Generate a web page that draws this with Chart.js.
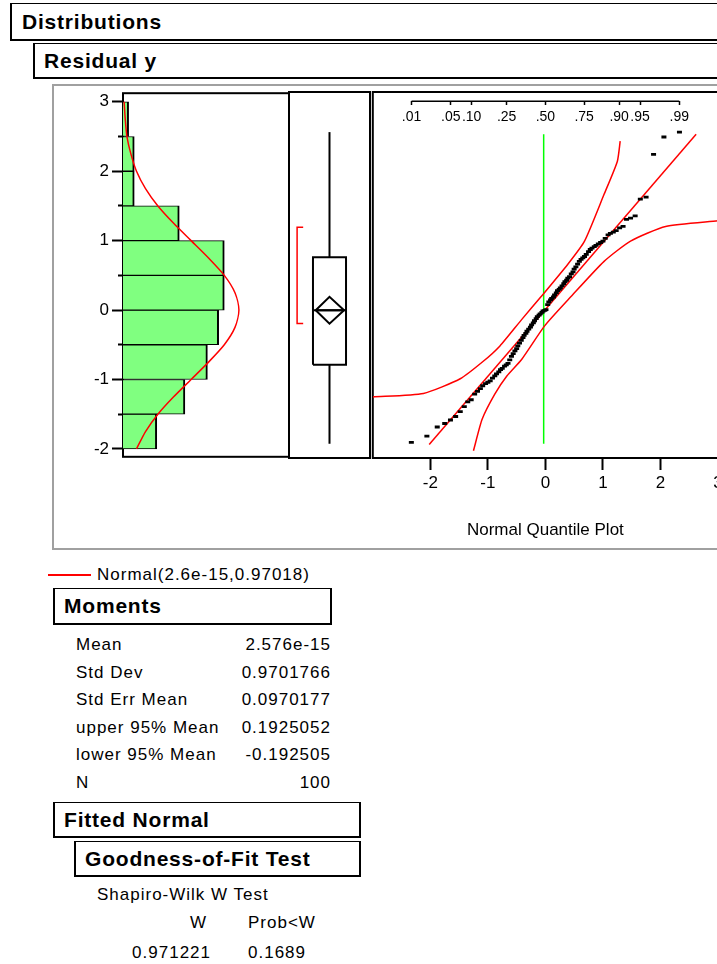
<!DOCTYPE html>
<html>
<head>
<meta charset="utf-8">
<title>Distributions</title>
<script src="https://cdn.jsdelivr.net/npm/chart.js@4.4.1/dist/chart.umd.min.js"></script>
<style>
html,body{margin:0;padding:0;background:#fff;}
body{position:relative;width:717px;height:964px;overflow:hidden;font-family:"Liberation Sans",Arial,Helvetica,sans-serif;color:#000;}
.box{position:absolute;box-sizing:border-box;border:2px solid #000;border-top-width:1px;font-weight:bold;font-size:21px;letter-spacing:0.8px;display:flex;align-items:center;padding-left:9px;white-space:nowrap;}
.t{position:absolute;font-size:17px;letter-spacing:1px;line-height:20px;height:20px;white-space:nowrap;}
.r{text-align:right;}
canvas{position:absolute;}
</style>
</head>
<body>
<div class="box" style="left:10px;top:3px;width:760px;height:38px;padding-left:10px;">Distributions</div>
<div class="box" style="left:33px;top:43px;width:740px;height:36px;">Residual y</div>
<div style="position:absolute;left:52px;top:84px;width:720px;height:466px;box-sizing:border-box;border:2px solid #a0a0a0;"></div>

<canvas id="hist" width="233" height="390" style="left:60px;top:80px;"></canvas>
<canvas id="boxp" width="89" height="390" style="left:285px;top:80px;"></canvas>
<canvas id="qq" width="364" height="480" style="left:366px;top:80px;"></canvas>

<div style="position:absolute;left:48px;top:574px;width:43px;height:2px;background:#ff0000;"></div>
<div class="t" style="left:97px;top:565px;">Normal(2.6e-15,0.97018)</div>

<div class="box" style="left:53px;top:588px;width:279px;height:37px;">Moments</div>
<div class="t" style="left:76px;top:635px;">Mean</div><div class="t r" style="left:200px;width:131px;top:635px;">2.576e-15</div>
<div class="t" style="left:76px;top:663px;">Std Dev</div><div class="t r" style="left:200px;width:131px;top:663px;">0.9701766</div>
<div class="t" style="left:76px;top:690px;">Std Err Mean</div><div class="t r" style="left:200px;width:131px;top:690px;">0.0970177</div>
<div class="t" style="left:76px;top:718px;">upper 95% Mean</div><div class="t r" style="left:200px;width:131px;top:718px;">0.1925052</div>
<div class="t" style="left:76px;top:745px;">lower 95% Mean</div><div class="t r" style="left:200px;width:131px;top:745px;">-0.192505</div>
<div class="t" style="left:76px;top:773px;">N</div><div class="t r" style="left:200px;width:131px;top:773px;">100</div>

<div class="box" style="left:53px;top:802px;width:308px;height:36px;">Fitted Normal</div>
<div class="box" style="left:74px;top:841px;width:287px;height:36px;">Goodness-of-Fit Test</div>
<div class="t" style="left:97px;top:885px;">Shapiro-Wilk W Test</div>
<div class="t r" style="left:150px;width:57px;top:913px;">W</div>
<div class="t" style="left:248px;top:913px;">Prob&lt;W</div>
<div class="t r" style="left:110px;width:101px;top:943px;">0.971221</div>
<div class="t" style="left:248px;top:943px;">0.1689</div>

<script>
// ---------------- data ----------------
const binCenters = [-1.75, -1.25, -0.75, -0.25, 0.25, 0.75, 1.25, 1.75, 2.25, 2.75];
const binCounts  = [6, 11, 15, 17, 18, 18, 10, 2, 2, 1];
const curveY     = [3.0, 2.75, 2.5, 2.25, 2.0, 1.75, 1.5, 1.25, 1.0, 0.75, 0.5, 0.25, 0, -0.25, -0.5, -0.75, -1.0, -1.25, -1.5, -1.75, -2.0];
const curveCount = [0.2, 0.4, 0.7, 1.4, 2.4, 4.0, 6.2, 9.0, 12.1, 15.2, 18.0, 19.9, 20.6, 19.9, 18.0, 15.2, 12.1, 9.0, 6.2, 4.0, 2.4];
const yTicks     = [-2, -1.5, -1, -0.5, 0, 0.5, 1, 1.5, 2, 2.5, 3];

const sortedResiduals = [
  -1.89, -1.80, -1.67, -1.62, -1.57, -1.52,
  -1.45, -1.38, -1.31, -1.28, -1.20, -1.16, -1.12, -1.08, -1.05, -1.03, -1.01,
  -0.97, -0.94, -0.91, -0.88, -0.85, -0.83, -0.80, -0.78, -0.76, -0.71, -0.66, -0.62, -0.58, -0.55, -0.51,
  -0.47, -0.43, -0.39, -0.36, -0.33, -0.30, -0.27, -0.24, -0.21, -0.18, -0.15, -0.12, -0.09, -0.07, -0.05, -0.03, -0.01,
  0.00, 0.01, 0.08, 0.12, 0.15, 0.17, 0.19, 0.22, 0.25, 0.28, 0.30, 0.32, 0.35, 0.38, 0.41, 0.43, 0.46, 0.48,
  0.52, 0.55, 0.59, 0.62, 0.66, 0.70, 0.73, 0.75, 0.77, 0.80, 0.84, 0.87, 0.89, 0.91, 0.93, 0.95, 0.97, 0.99,
  1.03, 1.08, 1.10, 1.12, 1.14, 1.18, 1.20, 1.30, 1.32, 1.35,
  1.59, 1.62, 2.23, 2.48, 2.55
];
const normalQuantiles = [
  -2.33, -2.06, -1.88, -1.75, -1.65, -1.56, -1.48, -1.41, -1.35, -1.29,
  -1.23, -1.18, -1.13, -1.09, -1.04, -1.00, -0.96, -0.92, -0.88, -0.85,
  -0.81, -0.78, -0.75, -0.71, -0.68, -0.65, -0.62, -0.59, -0.56, -0.53,
  -0.50, -0.48, -0.45, -0.42, -0.39, -0.37, -0.34, -0.32, -0.29, -0.26,
  -0.24, -0.21, -0.19, -0.16, -0.14, -0.11, -0.09, -0.06, -0.04, -0.01,
  0.01, 0.04, 0.06, 0.09, 0.11, 0.14, 0.16, 0.19, 0.21, 0.24,
  0.26, 0.29, 0.32, 0.34, 0.37, 0.39, 0.42, 0.45, 0.48, 0.50,
  0.53, 0.56, 0.59, 0.62, 0.65, 0.68, 0.71, 0.75, 0.78, 0.81,
  0.85, 0.88, 0.92, 0.96, 1.00, 1.04, 1.09, 1.13, 1.18, 1.23,
  1.29, 1.35, 1.41, 1.48, 1.56, 1.65, 1.75, 1.88, 2.06, 2.33
];
const qqXTicks      = [-2, -1, 0, 1, 2, 3];
const probLabels    = ['.01', '.05', '.10', '.25', '.50', '.75', '.90', '.95', '.99'];
const probQuantiles = [-2.326, -1.645, -1.282, -0.674, 0, 0.674, 1.282, 1.645, 2.326];
const probAxisY     = 2.99;

const fitLineX   = [-2.02, 2.62];
const fitLineY   = [-1.92, 2.52];
const upperBandX = [-3.0, -2.12, -1.48, -1.08, -0.79, -0.41, -0.07, 0.39, 0.68, 1.02, 1.25, 1.30];
const upperBandY = [-1.24, -1.19, -0.98, -0.73, -0.51, -0.13, 0.20, 0.66, 0.99, 1.66, 2.13, 2.42];
const lowerBandX = [-1.25, -1.10, -0.88, -0.67, -0.41, -0.01, 0.45, 1.02, 1.48, 2.09, 3.0];
const lowerBandY = [-2.01, -1.56, -1.20, -0.94, -0.70, -0.22, 0.20, 0.70, 0.99, 1.20, 1.28];
const greenLineX = [-0.03, -0.03];
const greenLineY = [-1.91, 2.52];

const quartiles    = [-0.78, 0.76];
const medianValue  = 0.0;
const whiskerEnds  = [-1.91, 2.55];
const meanValue    = 0.0;
const meanCI       = [-0.1925, 0.1925];
const shortestHalf = [-0.19, 1.19];

const Y_MIN = -2.114, Y_MAX = 3.124;

// ---------------- setup ----------------
Chart.defaults.font.family = '"Liberation Sans", Arial, Helvetica, sans-serif';
Chart.defaults.font.size = 17;
Chart.defaults.color = '#000';
Chart.defaults.animation = false;
Chart.defaults.responsive = false;
Chart.defaults.plugins.legend.display = false;
Chart.defaults.plugins.tooltip.enabled = false;

const framePlugin = {
  id: 'frame',
  beforeDatasetsDraw(chart) {
    const {ctx, chartArea: a} = chart;
    ctx.save();
    ctx.strokeStyle = '#000';
    ctx.lineWidth = 2;
    ctx.strokeRect(a.left, a.top, a.right - a.left, a.bottom - a.top);
    ctx.restore();
  }
};

const pts = (xs, ys) => xs.map((x, i) => ({x, y: ys[i]}));

// ---------------- histogram ----------------
new Chart(document.getElementById('hist'), {
  type: 'bar',
  data: {
    datasets: [
      {
        type: 'line',
        data: pts(curveCount, curveY),
        borderColor: '#ff0000', borderWidth: 1.5, pointRadius: 0, fill: false, tension: 0.25
      },
      {
        type: 'bar',
        data: pts(binCounts, binCenters),
        backgroundColor: '#80ff80', borderColor: '#000',
        borderWidth: {top: 1, bottom: 1, right: 2, left: 0},
        borderSkipped: false,
        barPercentage: 1, categoryPercentage: 1
      }
    ]
  },
  options: {
    indexAxis: 'y',
    layout: {padding: {left: 0, right: 4, top: 12, bottom: 12}},
    scales: {
      x: {type: 'linear', min: 0, max: 29.5, display: false},
      y: {
        type: 'linear', position: 'left', min: Y_MIN, max: Y_MAX, offset: false,
        afterBuildTicks: s => { s.ticks = yTicks.map(v => ({value: v})); },
        afterFit: s => { s.width = 63; },
        ticks: {autoSkip: false, padding: 3, callback: v => Number.isInteger(v) ? String(v) : ''},
        grid: {
          offset: false, drawOnChartArea: false, drawTicks: true, tickLength: 11, tickWidth: 2, tickColor: '#000',
          tickBorderDash: c => (c.tick && Number.isInteger(c.tick.value)) ? [] : [0, 6, 5, 0]
        },
        border: {display: false}
      }
    }
  },
  plugins: [framePlugin]
});

// ---------------- box plot ----------------
const boxL = 0.296, boxR = 0.704, mid = 0.5, diaL = 0.33, diaR = 0.68, brX = 0.10, brTick = 0.175;
const blk = {showLine: true, pointRadius: 0, borderColor: '#000', borderWidth: 2, fill: false};
new Chart(document.getElementById('boxp'), {
  type: 'scatter',
  data: {
    datasets: [
      Object.assign({data: [{x: boxL, y: quartiles[0]}, {x: boxR, y: quartiles[0]}, {x: boxR, y: quartiles[1]}, {x: boxL, y: quartiles[1]}, {x: boxL, y: quartiles[0]}]}, blk),
      Object.assign({data: [{x: boxL, y: medianValue}, {x: boxR, y: medianValue}]}, blk),
      Object.assign({data: [{x: mid, y: quartiles[1]}, {x: mid, y: whiskerEnds[1]}]}, blk),
      Object.assign({data: [{x: mid, y: quartiles[0]}, {x: mid, y: whiskerEnds[0]}]}, blk),
      Object.assign({data: [{x: diaL, y: meanValue}, {x: mid, y: meanCI[1]}, {x: diaR, y: meanValue}, {x: mid, y: meanCI[0]}, {x: diaL, y: meanValue}]}, blk),
      Object.assign({data: [{x: diaL, y: meanValue}, {x: diaR, y: meanValue}]}, blk),
      {showLine: true, pointRadius: 0, borderColor: '#ff0000', borderWidth: 1.5, fill: false,
       data: [{x: brTick, y: shortestHalf[1]}, {x: brX, y: shortestHalf[1]}, {x: brX, y: shortestHalf[0]}, {x: brTick, y: shortestHalf[0]}]}
    ]
  },
  options: {
    layout: {padding: {left: 4, right: 4, top: 12, bottom: 12}},
    scales: {
      x: {type: 'linear', min: 0, max: 1, display: false},
      y: {type: 'linear', min: Y_MIN, max: Y_MAX, display: false}
    }
  },
  plugins: [framePlugin]
});

// ---------------- normal quantile plot ----------------
const red = {showLine: true, pointRadius: 0, borderColor: '#ff0000', borderWidth: 1.5, fill: false};
new Chart(document.getElementById('qq'), {
  type: 'scatter',
  data: {
    datasets: [
      {data: pts(normalQuantiles, sortedResiduals), pointStyle: 'line', pointRadius: 2.5, pointBorderWidth: 2.8,
       borderColor: '#000', backgroundColor: '#000', showLine: false},
      Object.assign({data: pts(fitLineX, fitLineY)}, red),
      Object.assign({data: pts(upperBandX, upperBandY), tension: 0.2}, red),
      Object.assign({data: pts(lowerBandX, lowerBandY), tension: 0.2}, red),
      {data: pts(greenLineX, greenLineY), showLine: true, pointRadius: 0, borderColor: '#00ff00', borderWidth: 1.5},
      {data: [{x: probQuantiles[0], y: probAxisY}, {x: probQuantiles[probQuantiles.length - 1], y: probAxisY}],
       showLine: true, pointRadius: 0, borderColor: '#000', borderWidth: 1.5}
    ]
  },
  options: {
    layout: {padding: {left: 4, right: 12, top: 12, bottom: 12}},
    scales: {
      x: {
        type: 'linear', position: 'bottom', min: -3, max: 3,
        afterBuildTicks: s => { s.ticks = qqXTicks.map(v => ({value: v})); },
        afterFit: s => { s.height = 90; },
        ticks: {autoSkip: false, maxRotation: 0, minRotation: 0, padding: 3, callback: v => String(v)},
        grid: {drawOnChartArea: false, drawTicks: true, tickLength: 12, tickWidth: 2, tickColor: '#000'},
        border: {display: false},
        title: {display: true, text: 'Normal Quantile Plot', font: {size: 17}, padding: {top: 0, bottom: 7}, color: '#000'}
      },
      xTop: {
        type: 'linear', axis: 'x', position: {y: probAxisY}, min: -3, max: 3,
        afterBuildTicks: s => { s.ticks = probQuantiles.map(v => ({value: v})); },
        ticks: {autoSkip: false, maxRotation: 0, minRotation: 0, padding: 3, font: {size: 14},
                callback: (v, i) => probLabels[i]},
        grid: {drawOnChartArea: false, drawTicks: true, tickLength: 4, tickWidth: 1.5, tickColor: '#000'},
        border: {display: false}
      },
      y: {type: 'linear', min: Y_MIN, max: Y_MAX, display: false}
    }
  },
  plugins: [framePlugin]
});
</script>
</body>
</html>
